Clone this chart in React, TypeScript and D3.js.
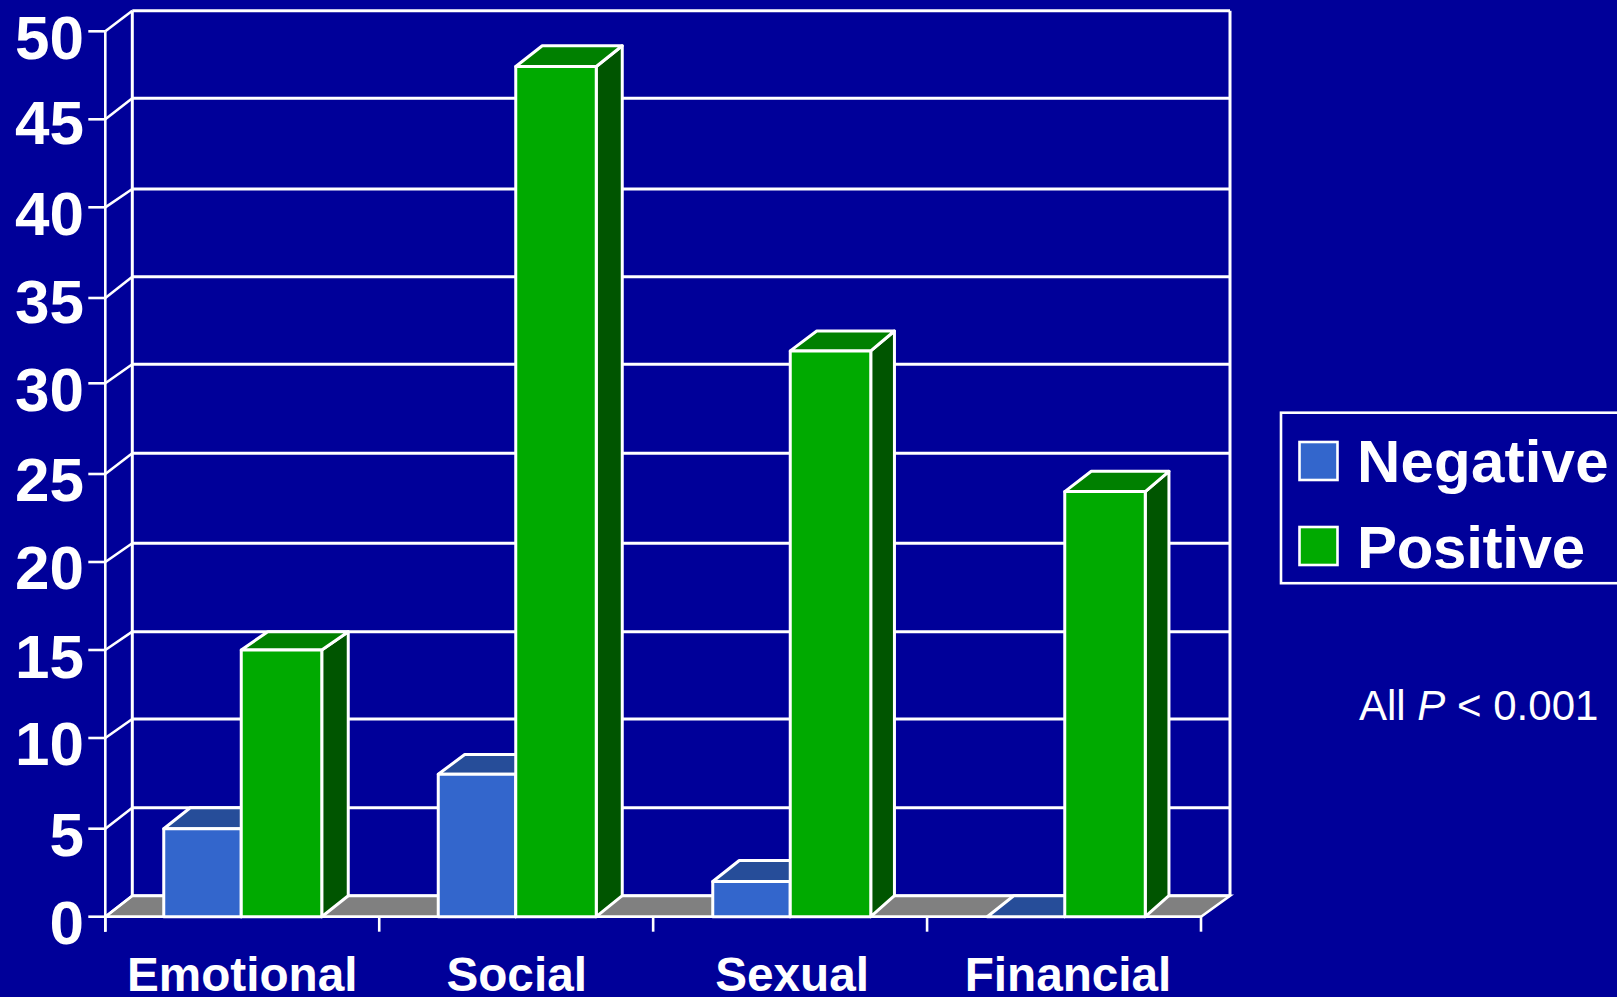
import React from "react";
import * as d3 from "d3";

const categories = ["Emotional", "Social", "Sexual", "Financial"];
const seriesNames = ["Negative", "Positive"];
const negativeValues = [5, 8, 2, 0];
const positiveValues = [15, 48, 31.9, 24];
const valueTicks = [0, 5, 10, 15, 20, 25, 30, 35, 40, 45, 50];

const WIDTH = 1617;
const HEIGHT = 997;
const DEPTH_LEFT = 26.5;
const NEGATIVE_WIDTH = 77.5;
const POSITIVE_WIDTH = 80.5;

const COLORS = {
  page: "#000099",
  floor: "#808080",
  line: "#ffffff",
  Negative: { front: "#3366cc", top: "#264d99", side: "#1a3366" },
  Positive: { front: "#00aa00", top: "#008000", side: "#005500" },
} as Record<string, any>;

const FONT = "'Liberation Sans', Arial, sans-serif";

// The slide's axis was hand-placed, so each tick keeps its own pixel row.
const y = d3
  .scaleLinear()
  .domain(valueTicks)
  .range([916.7, 828.7, 738, 650, 562, 474, 383.3, 298, 207.3, 119.3, 31.3]);
const yBack = d3
  .scaleLinear()
  .domain(valueTicks)
  .range([895.7, 807.7, 719, 631.7, 543.3, 453.3, 364.3, 276.7, 189, 98.3, 10.7]);
const yLabel = d3
  .scaleLinear()
  .domain(valueTicks)
  .range([944, 856.3, 765.3, 677.7, 589, 501, 411, 322.7, 234.7, 144, 59.3]);

const xAxis = d3.scaleBand<string>().domain(categories).range([105.3, 1201]);
const xBars = d3.scaleBand<string>().domain(categories).range([104, 1202]);

// Receding side faces narrow toward the right of the plot.
const sideDepth = d3.scaleOrdinal<string, number>().domain(categories).range([26.5, 26, 23.7, 23.7]);

const pts = (list: number[][]) => list.map((p) => p.join(",")).join(" ");

function Bar({ category, name, value }: { category: string; name: string; value: number }) {
  const center = (xBars(category) as number) + xBars.bandwidth() / 2;
  const x0 = name === "Negative" ? center - NEGATIVE_WIDTH : center;
  const x1 = name === "Negative" ? center : center + POSITIVE_WIDTH;
  const depthRight = sideDepth(category);
  const yTop = y(value);
  const yTopBack = yBack(value);
  const yBase = y(0);
  const yBaseBack = yBack(0);
  const c = COLORS[name];
  const common = { stroke: COLORS.line, strokeWidth: 3, strokeLinejoin: "round" as const };
  return (
    <g>
      <polygon
        points={pts([[x1, yTop], [x1 + depthRight, yTopBack], [x1 + depthRight, yBaseBack], [x1, yBase]])}
        fill={c.side}
        {...common}
      />
      <polygon
        points={pts([[x0, yTop], [x0 + DEPTH_LEFT, yTopBack], [x1 + depthRight, yTopBack], [x1, yTop]])}
        fill={c.top}
        {...common}
      />
      {value > 0 && <rect x={x0} y={yTop} width={x1 - x0} height={yBase - yTop} fill={c.front} {...common} />}
    </g>
  );
}

export default function App() {
  const left = xAxis.range()[0];
  const right = xAxis.range()[1];
  const base = y(0);
  const baseBack = yBack(0);
  const backLeft = left + 27;
  const backRight = right + 29;
  const gridStyle = { stroke: COLORS.line, strokeWidth: 2.6 };
  const wallStyle = { stroke: COLORS.line, strokeWidth: 3 };
  const tickEdges = [...categories.map((c) => xAxis(c) as number), right];
  const labelNudge: Record<string, number> = { Emotional: 0, Social: 0.5, Sexual: 2, Financial: 4 };

  return (
    <svg
      width={WIDTH}
      height={HEIGHT}
      viewBox={`0 0 ${WIDTH} ${HEIGHT}`}
      style={{ position: "fixed", left: 0, top: 0, display: "block", background: COLORS.page }}
    >
      <rect width={WIDTH} height={HEIGHT} fill={COLORS.page} />

      {/* floor */}
      <polygon
        points={pts([[left, base], [backLeft, baseBack], [backRight, baseBack], [right, base]])}
        fill={COLORS.floor}
        stroke={COLORS.line}
        strokeWidth={2.6}
      />

      {/* back wall grid, left wall and value labels */}
      {valueTicks.map((v) => (
        <g key={v}>
          <line x1={backLeft} x2={backRight} y1={yBack(v)} y2={yBack(v)} {...wallStyle} />
          <line x1={left} x2={backLeft} y1={y(v)} y2={yBack(v)} {...gridStyle} />
          <line x1={left - 17} x2={left} y1={y(v)} y2={y(v)} {...gridStyle} />
          <text
            x={84}
            y={yLabel(v)}
            textAnchor="end"
            fontFamily={FONT}
            fontWeight={700}
            fontSize={62}
            fill={COLORS.line}
          >
            {v}
          </text>
        </g>
      ))}
      <line x1={backLeft} x2={backLeft} y1={yBack(50)} y2={baseBack} {...wallStyle} />
      <line x1={backRight} x2={backRight} y1={yBack(50)} y2={baseBack} {...wallStyle} />
      <line x1={left} x2={left} y1={y(50)} y2={base + 15} {...gridStyle} />
      <line x1={left} x2={right} y1={base} y2={base} {...gridStyle} />
      {tickEdges.map((t) => (
        <line key={t} x1={t} x2={t} y1={base} y2={base + 15} {...gridStyle} />
      ))}

      {/* bars, negative behind positive in each group */}
      {categories.map((c, i) => (
        <g key={c}>
          <Bar category={c} name="Negative" value={negativeValues[i]} />
          <Bar category={c} name="Positive" value={positiveValues[i]} />
        </g>
      ))}

      {/* category labels */}
      {categories.map((c) => (
        <text
          key={c}
          x={(xAxis(c) as number) + xAxis.bandwidth() / 2 + labelNudge[c]}
          y={991}
          textAnchor="middle"
          fontFamily={FONT}
          fontWeight={700}
          fontSize={47.7}
          fill={COLORS.line}
        >
          {c}
        </text>
      ))}

      {/* legend */}
      <rect x={1281} y={412.7} width={345} height={170.5} fill="none" stroke={COLORS.line} strokeWidth={2.6} />
      {seriesNames.map((name, i) => (
        <g key={name}>
          <rect
            x={1299.5}
            y={442 + i * 85}
            width={38}
            height={38}
            fill={COLORS[name].front}
            stroke={COLORS.line}
            strokeWidth={2.6}
          />
          <text
            x={1357}
            y={482 + i * 85.5}
            fontFamily={FONT}
            fontWeight={700}
            fontSize={60}
            letterSpacing={name === "Positive" ? -0.3 : 0.2}
            fill={COLORS.line}
          >
            {name}
          </text>
        </g>
      ))}

      {/* significance note */}
      <text x={1359} y={719.5} fontFamily={FONT} fontSize={42} fill={COLORS.line}>
        All <tspan fontStyle="italic">P</tspan> {"<"} 0.001
      </text>
    </svg>
  );
}
